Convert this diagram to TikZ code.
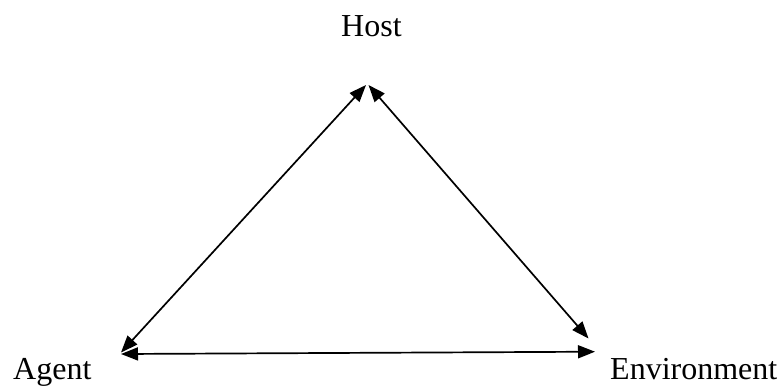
\documentclass[tikz,border=0pt]{standalone}
\usepackage{fontspec}
\setmainfont{Liberation Serif}
\usetikzlibrary{arrows.meta}
\begin{document}
\begin{tikzpicture}[x=1bp,y=-1bp,
  lbl/.style={anchor=base west,inner sep=0pt,font=\fontsize{32bp}{38bp}\selectfont},
  link/.style={line width=1.7bp,{Triangle[length=17bp,width=13bp]}-{Triangle[length=17bp,width=13bp]}}]
\useasboundingbox[fill=white] (0,0) rectangle (780,386);
\node[lbl] (host) at (341,36) {Host};
\node[lbl] (agent) at (13,379.5) {Agent};
\node[lbl] (env) at (610,379.5) {Environment};
\coordinate (hl) at (366,85);
\coordinate (hr) at (368.5,85);
\coordinate (al) at (121,352.5);
\coordinate (ah) at (121,354);
\coordinate (ed) at (588.5,338.5);
\coordinate (eh) at (595,351.7);
\draw[link] (al) -- (hl);
\draw[link] (hr) -- (ed);
\draw[link] (ah) -- (eh);
\end{tikzpicture}
\end{document}
